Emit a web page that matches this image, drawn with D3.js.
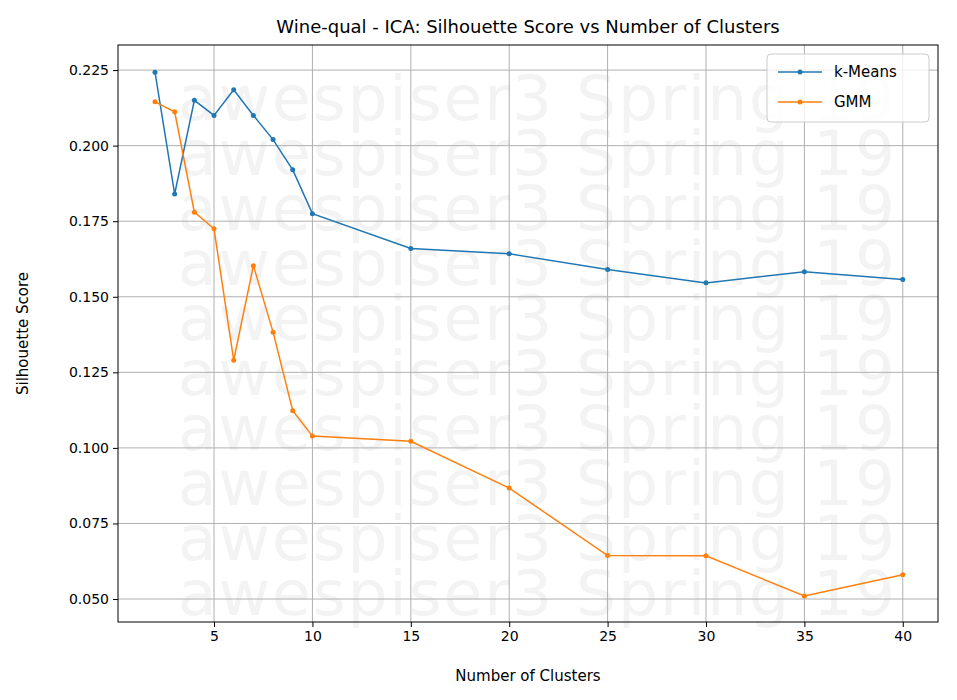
<!DOCTYPE html>
<html><head><meta charset="utf-8">
<script src="https://cdn.jsdelivr.net/npm/d3@7"></script>
<style>body{margin:0;background:#fff}text{font-family:"DejaVu Sans",sans-serif}</style>
</head><body><svg id="c" width="957" height="700"></svg>
<script>
var clusters = [2,3,4,5,6,7,8,9,10,15,20,25,30,35,40];
var kmeans = [0.2243,0.1840,0.2150,0.2100,0.2185,0.2100,0.2020,0.1920,0.1775,0.1660,0.1642,0.1590,0.1546,0.1583,0.1557];
var gmm = [0.2145,0.2112,0.1780,0.1725,0.1290,0.1603,0.1383,0.1123,0.1039,0.1022,0.0867,0.0644,0.0643,0.0510,0.0580];
var xTicks = [5,10,15,20,25,30,35,40];
var yTicks = [0.050,0.075,0.100,0.125,0.150,0.175,0.200,0.225];

var svg = d3.select("#c");
var L=118,R=938,T=45,B=622;
var x = d3.scaleLinear().domain([0.12,41.79]).range([L,R]);
var y = d3.scaleLinear().domain([0.0424,0.2333]).range([B,T]);

// watermark
var wm = svg.append("g").attr("fill","#000").attr("opacity",0.045).attr("font-size",63);
for (var i=0;i<10;i++) wm.append("text").attr("x",178).attr("y",120+i*55).attr("textLength",717).text("awespiser3 Spring 19");

var g = svg.append("g");
g.selectAll(".gx").data(xTicks).join("line").attr("x1",d=>x(d)).attr("x2",d=>x(d)).attr("y1",T).attr("y2",B).attr("stroke","#b0b0b0").attr("stroke-width",1);
g.selectAll(".gy").data(yTicks).join("line").attr("y1",d=>y(d)).attr("y2",d=>y(d)).attr("x1",L).attr("x2",R).attr("stroke","#b0b0b0").attr("stroke-width",1);

svg.append("g").attr("transform","translate(0,"+B+")").call(d3.axisBottom(x).tickValues(xTicks).tickSize(5).tickPadding(4))
  .call(a=>a.select(".domain").remove()).selectAll("text").attr("font-size",14).attr("fill","#000");
svg.append("g").attr("transform","translate("+L+",0)").call(d3.axisLeft(y).tickValues(yTicks).tickFormat(d3.format(".3f")).tickSize(5).tickPadding(4))
  .call(a=>a.select(".domain").remove()).selectAll("text").attr("font-size",14).attr("fill","#000");
svg.append("rect").attr("x",L).attr("y",T).attr("width",R-L).attr("height",B-T).attr("fill","none").attr("stroke","#000");

var series=[{name:"k-Means",v:kmeans,c:"#1f77b4"},{name:"GMM",v:gmm,c:"#ff7f0e"}];
var line=d3.line().x((d,i)=>x(clusters[i])).y(d=>y(d));
series.forEach(function(s){
  svg.append("path").attr("d",line(s.v)).attr("fill","none").attr("stroke",s.c).attr("stroke-width",1.5);
  svg.append("g").selectAll("circle").data(s.v).join("circle").attr("cx",(d,i)=>x(clusters[i])).attr("cy",d=>y(d)).attr("r",2.5).attr("fill",s.c);
});

// legend
var lg=svg.append("g");
lg.append("rect").attr("x",767).attr("y",54).attr("width",162).attr("height",68).attr("rx",4).attr("fill","#fff").attr("fill-opacity",0.8).attr("stroke","#ccc");
series.forEach(function(s,i){
  var yy=72+i*30;
  lg.append("line").attr("x1",778).attr("x2",822).attr("y1",yy).attr("y2",yy).attr("stroke",s.c).attr("stroke-width",1.5);
  lg.append("circle").attr("cx",800).attr("cy",yy).attr("r",2.5).attr("fill",s.c);
  lg.append("text").attr("x",834).attr("y",yy+5).attr("font-size",15).text(s.name);
});

svg.append("text").attr("x",(L+R)/2).attr("y",33).attr("text-anchor","middle").attr("font-size",18).text("Wine-qual - ICA: Silhouette Score vs Number of Clusters");
svg.append("text").attr("x",(L+R)/2).attr("y",681).attr("text-anchor","middle").attr("font-size",15).text("Number of Clusters");
svg.append("text").attr("transform","translate(28,"+((T+B)/2)+") rotate(-90)").attr("text-anchor","middle").attr("font-size",15).text("Silhouette Score");
</script></body></html>
